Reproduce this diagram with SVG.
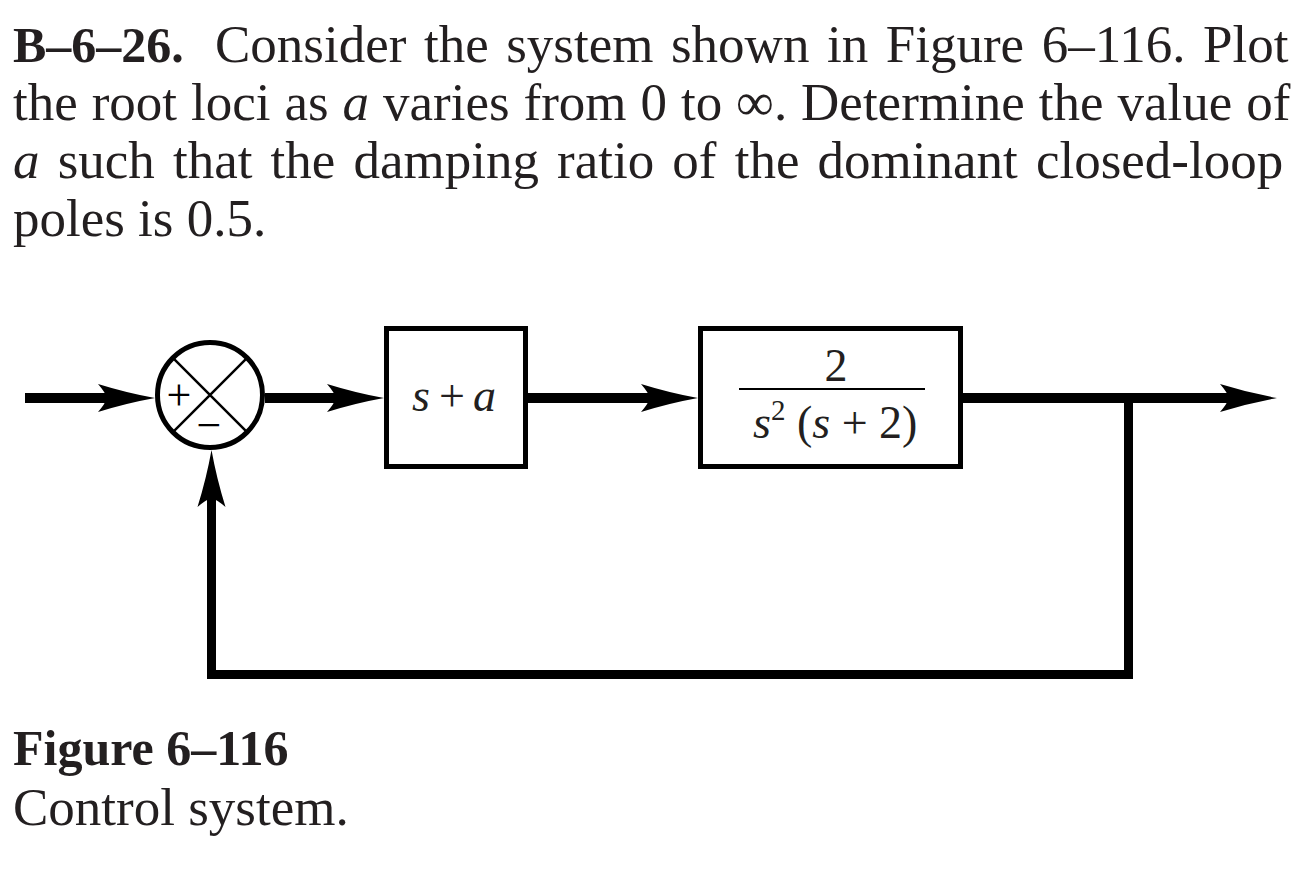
<svg xmlns="http://www.w3.org/2000/svg" width="1309" height="871" viewBox="0 0 1309 871">
<style>
  .t { font-family: "Liberation Serif", "Times New Roman", serif; font-size: 53px; fill: #231f20; }
  .b { font-weight: bold; font-size: 50px; }
  .i { font-style: italic; }
  .lbl { font-family: "Liberation Serif", "Times New Roman", serif; font-size: 46px; fill: #231f20; }
  .sign { font-family: "Liberation Serif", "Times New Roman", serif; font-size: 44px; fill: #000; text-anchor: middle; }
  .box { fill: #fff; stroke: #000; stroke-width: 5; }
  .wire { fill: none; stroke: #000; stroke-width: 10; stroke-linejoin: miter; }
  .thin { fill: none; stroke: #000; stroke-width: 2.5; }
</style>
<defs>
  <marker id="arr" markerUnits="userSpaceOnUse" viewBox="-60 -16 62 32" markerWidth="62" markerHeight="32" refX="-46" refY="0" orient="auto" overflow="visible">
    <path d="M0,0 Q-28,-5 -57,-14 Q-50,-6 -48,0 Q-50,6 -57,14 Q-28,5 0,0 Z" fill="#000"/>
  </marker>
</defs>
<rect width="1309" height="871" fill="#fff"/>

<g id="problem-text">
  <text class="t b" x="13" y="62">B–6–26.</text>
  <text class="t" x="215" y="62" word-spacing="4.3">Consider the system shown in Figure 6–116. Plot</text>
  <text class="t" x="13" y="120" word-spacing="0.7">the root loci as <tspan class="i">a</tspan> varies from 0 to ∞. Determine the value of</text>
  <text class="t" x="13" y="178" word-spacing="4.9"><tspan class="i">a</tspan> such that the damping ratio of the dominant closed-loop</text>
  <text class="t" x="13" y="236">poles is 0.5.</text>
</g>

<g id="connectors">
  <path class="wire" d="M25,398 H109" marker-end="url(#arr)"/>
  <path class="wire" d="M265,398 H338" marker-end="url(#arr)"/>
  <path class="wire" d="M528,398 H652" marker-end="url(#arr)"/>
  <path class="wire" d="M963,398 H1231" marker-end="url(#arr)"/>
  <path class="wire" style="stroke-width:9" d="M1128.5,398 V674.5 H211.5 V496" marker-end="url(#arr)"/>
</g>

<g id="sum-junction">
  <circle cx="210" cy="395" r="52.5" fill="#fff" stroke="#000" stroke-width="5"/>
  <path class="thin" d="M172.9,357.9 L247.1,432.1 M247.1,357.9 L172.9,432.1"/>
  <text class="sign" x="179" y="410">+</text>
  <text class="sign" x="209" y="440">−</text>
</g>

<g id="block-controller">
  <rect class="box" x="386.5" y="328.5" width="139" height="138"/>
  <text class="lbl" y="411"><tspan class="i" x="412">s</tspan><tspan x="439">+</tspan><tspan class="i" x="473">a</tspan></text>
</g>

<g id="block-plant">
  <rect class="box" x="700.5" y="328.5" width="260" height="138"/>
  <text class="lbl" x="836" y="381" text-anchor="middle">2</text>
  <line x1="739" y1="389" x2="925" y2="389" stroke="#000" stroke-width="2"/>
  <text class="lbl" x="753" y="438"><tspan class="i">s</tspan><tspan font-size="29" dy="-18">2</tspan><tspan dy="18"> (</tspan><tspan class="i">s</tspan> + 2)</text>
</g>

<g id="caption">
  <text class="t b" x="13" y="765">Figure 6–116</text>
  <text class="t" x="13" y="825">Control system.</text>
</g>
</svg>
